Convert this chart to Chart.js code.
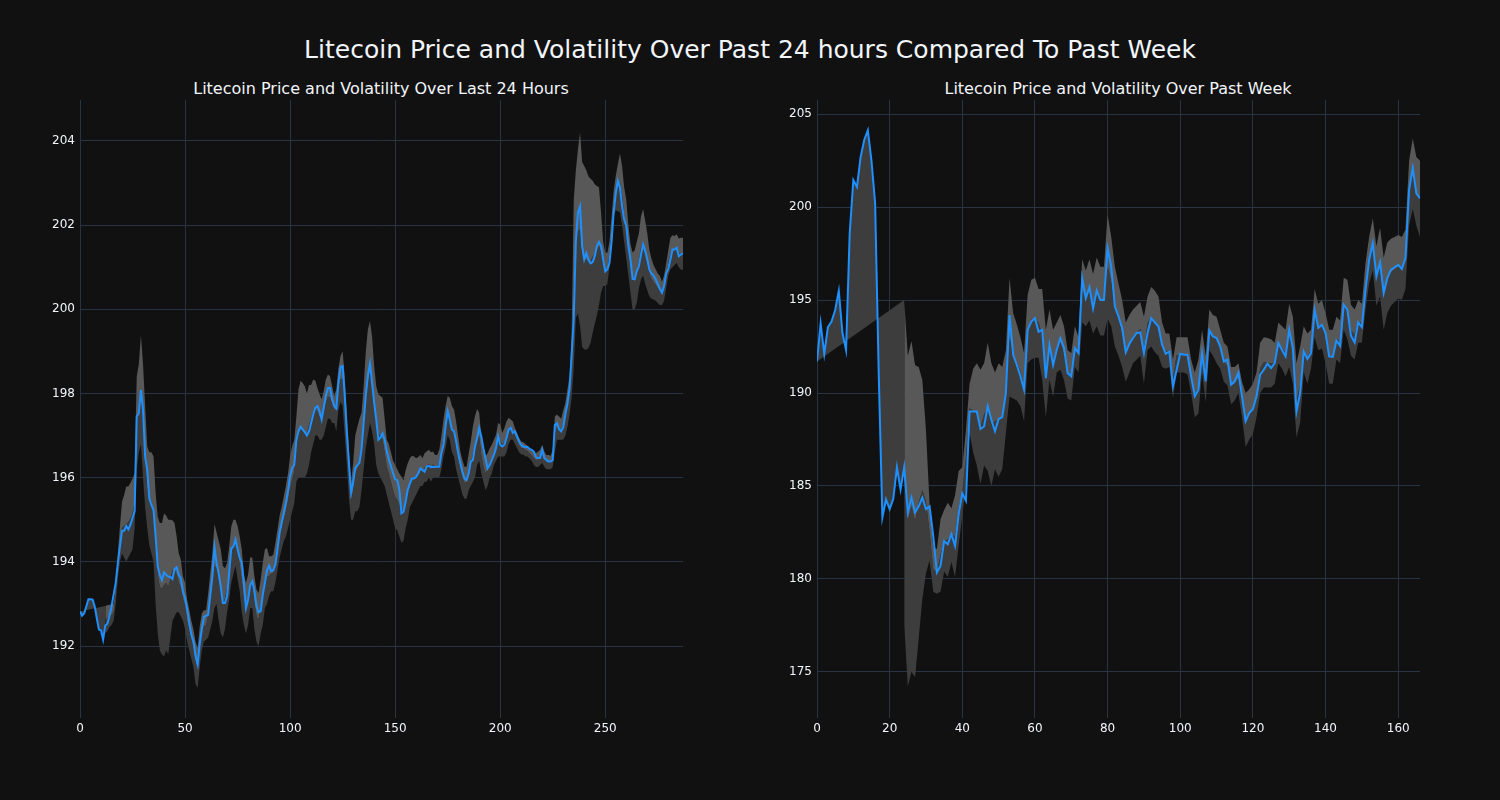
<!DOCTYPE html>
<html>
<head>
<meta charset="utf-8">
<script src="https://cdn.jsdelivr.net/npm/chart.js@4.4.1/dist/chart.umd.min.js"></script>
<style>
  html, body { margin: 0; padding: 0; background: #111111; }
  #wrap { position: relative; width: 1500px; height: 800px; background: #111111;
          font-family: "DejaVu Sans", sans-serif; color: #f2f5fa; }
  .title { position: absolute; white-space: nowrap; transform: translateX(-50%); line-height: 1; }
  canvas { position: absolute; top: 0; }
</style>
</head>
<body>
<div id="wrap">
  <div class="title" style="left:750px; top:37px; font-size:25px;">Litecoin Price and Volatility Over Past 24 hours Compared To Past Week</div>
  <div class="title" style="left:381px; top:81px; font-size:16px;">Litecoin Price and Volatility Over Last 24 Hours</div>
  <div class="title" style="left:1118px; top:81px; font-size:16px;">Litecoin Price and Volatility Over Past Week</div>
  <canvas id="dayChart" width="750" height="800" style="left:0px"></canvas>
  <canvas id="weekChart" width="750" height="800" style="left:750px"></canvas>
</div>
<script>
// last 24 hours, 5 minute steps (index 0..287)
const dayPrice = [
  192.82, 192.72, 192.78, 192.94, 193.11, 193.11, 193.10, 192.94, 192.66, 192.39,
  192.37, 192.15, 192.48, 192.53, 192.70, 192.94, 193.22, 193.50, 193.97, 194.36,
  194.74, 194.74, 194.85, 194.77, 194.88, 195.04, 195.20, 197.45, 197.53, 198.08,
  197.60, 196.50, 196.18, 195.50, 195.35, 195.23, 194.60, 193.89, 193.69, 193.57,
  193.75, 193.69, 193.65, 193.64, 193.59, 193.83, 193.87, 193.69, 193.61, 193.30,
  193.14, 192.88, 192.55, 192.27, 192.11, 191.76, 191.56, 192.05, 192.40, 192.69,
  192.72, 192.74, 193.20, 193.65, 194.35, 193.97, 193.73, 193.40, 193.02, 193.02,
  193.18, 193.73, 194.32, 194.36, 194.53, 194.29, 194.10, 193.98, 193.50, 192.90,
  193.10, 193.45, 193.54, 193.30, 192.95, 192.80, 192.83, 193.22, 193.50, 193.80,
  193.91, 193.78, 193.80, 193.94, 194.30, 194.69, 194.93, 195.16, 195.40, 195.68,
  196.04, 196.23, 196.31, 196.90, 197.10, 197.21, 197.14, 197.08, 197.00, 197.10,
  197.30, 197.50, 197.66, 197.70, 197.58, 197.38, 197.66, 197.94, 198.13, 198.13,
  197.87, 197.70, 197.64, 198.25, 198.63, 198.65, 197.94, 197.07, 196.35, 195.64,
  195.88, 196.23, 196.29, 196.35, 196.67, 197.30, 197.94, 198.41, 198.71, 198.25,
  197.78, 197.38, 196.90, 196.95, 197.05, 196.90, 196.63, 196.43, 196.27, 196.11,
  195.96, 195.94, 195.72, 195.15, 195.19, 195.43, 195.71, 195.86, 195.98, 195.98,
  196.02, 196.10, 196.22, 196.18, 196.14, 196.26, 196.28, 196.25, 196.26, 196.25,
  196.26, 196.26, 196.58, 196.78, 197.22, 197.58, 197.38, 197.14, 197.10, 196.86,
  196.58, 196.34, 196.14, 195.98, 195.94, 196.10, 196.38, 196.42, 196.74, 196.94,
  197.18, 196.98, 196.70, 196.46, 196.22, 196.30, 196.42, 196.54, 196.70, 196.98,
  196.78, 196.74, 196.78, 196.94, 197.14, 197.18, 197.06, 197.10, 196.98, 196.86,
  196.78, 196.74, 196.73, 196.73, 196.68, 196.66, 196.62, 196.49, 196.46, 196.47,
  196.66, 196.46, 196.42, 196.38, 196.38, 196.42, 197.25, 197.29, 197.15, 197.10,
  197.20, 197.50, 197.75, 198.10, 198.90, 199.80, 201.60, 202.30, 202.45, 201.50,
  201.18, 201.33, 201.18, 201.09, 201.12, 201.26, 201.50, 201.60, 201.50, 201.18,
  200.90, 200.95, 201.10, 201.60, 202.30, 202.75, 203.05, 202.89, 202.45, 202.13,
  201.98, 201.50, 201.18, 200.72, 200.71, 200.90, 201.02, 201.30, 201.54, 201.38,
  201.18, 200.94, 200.85, 200.80, 200.71, 200.60, 200.48, 200.39, 200.55, 200.85,
  200.96, 201.18, 201.42, 201.42, 201.46, 201.26, 201.30, 201.33
];

const dayUpper = [
  null, null, null, null, null, null, null, null, null, null, null, null,
  192.95, 192.97, 192.98, 192.98, 193.00, 193.40, 194.20, 194.84,
  195.43, 195.59, 195.79, 195.79, 195.87, 195.98, 196.10, 198.40, 198.70, 199.38,
  198.70, 197.70, 196.74, 196.60, 196.60, 196.50, 195.63, 195.07, 194.92, 194.92,
  195.15, 195.10, 195.00, 195.00, 194.99, 194.92, 194.60, 194.20, 194.05, 193.65,
  193.50, 193.10, 192.86, 192.60, 192.39, 192.10, 191.95, 192.47, 192.78, 192.85,
  192.85, 193.25, 193.73, 194.20, 194.90, 194.70, 194.50, 194.30, 193.90, 193.85,
  193.97, 194.36, 194.84, 195.00, 195.00, 194.85, 194.60, 194.30, 193.70, 193.50,
  193.70, 194.10, 194.10, 193.66, 193.34, 193.26, 193.58, 193.98, 194.30, 194.33,
  194.13, 194.13, 194.17, 194.45, 194.77, 195.10, 195.30, 195.56, 195.80, 196.10,
  196.50, 196.75, 196.90, 197.46, 198.10, 198.30, 198.25, 198.17, 198.00, 198.20,
  198.20, 198.33, 198.30, 198.13, 197.98, 197.86, 198.06, 198.33, 198.45, 198.41,
  198.17, 197.94, 198.10, 198.60, 198.89, 199.00, 198.41, 197.54, 196.67, 195.88,
  196.35, 197.00, 197.20, 197.40, 197.54, 198.17, 198.97, 199.52, 199.72, 199.36,
  198.65, 198.17, 197.98, 197.94, 197.90, 197.40, 196.90, 196.80, 196.60, 196.40,
  196.30, 196.20, 196.10, 196.02, 195.94, 196.18, 196.34, 196.46, 196.52, 196.50,
  196.46, 196.49, 196.54, 196.46, 196.58, 196.62, 196.66, 196.60, 196.62, 196.54,
  196.54, 196.66, 196.98, 197.38, 197.70, 197.94, 197.90, 197.70, 197.62, 197.34,
  196.98, 196.62, 196.42, 196.26, 196.26, 196.58, 196.86, 197.22, 197.46, 197.63,
  197.54, 196.98, 196.66, 196.50, 196.58, 196.70, 196.78, 196.90, 197.02, 197.30,
  197.26, 197.06, 197.18, 197.34, 197.42, 197.38, 197.34, 197.18, 197.06, 196.94,
  196.86, 196.84, 196.80, 196.76, 196.70, 196.66, 196.62, 196.58, 196.62, 196.66,
  196.78, 196.62, 196.54, 196.54, 196.52, 196.66, 197.45, 197.50, 197.45, 197.40,
  197.60, 197.77, 198.10, 198.40, 199.40, 202.60, 203.30, 203.80, 204.20, 203.50,
  203.40, 203.30, 203.15, 203.10, 203.05, 202.97, 202.93, 202.90, 202.30, 201.60,
  201.35, 201.34, 201.60, 202.20, 202.80, 203.17, 203.45, 203.70, 203.40, 202.90,
  202.60, 202.00, 201.55, 201.35, 201.40, 201.60, 201.80, 202.20, 202.38, 202.10,
  201.80, 201.40, 201.20, 201.05, 200.95, 200.85, 200.79, 200.65, 200.80, 201.10,
  201.40, 201.70, 201.76, 201.74, 201.78, 201.68, 201.70, 201.70
];

const dayLower = [
  null, null, null, null, null, null, null, null, null, null, null, null,
  192.30, 192.35, 192.45, 192.50, 192.60, 193.00, 193.60, 194.00,
  194.20, 194.10, 194.00, 194.10, 194.20, 194.30, 194.80, 196.20, 196.60, 196.80,
  196.00, 195.30, 194.80, 194.40, 194.20, 194.00, 193.00, 192.30, 191.90, 191.80,
  191.75, 191.90, 191.80, 192.20, 192.60, 192.70, 192.80, 192.80, 192.70, 192.60,
  192.40, 192.10, 191.90, 191.70, 191.50, 191.10, 191.00, 191.50, 191.90, 192.10,
  192.15, 192.20, 192.40, 192.60, 192.90, 193.00, 192.60, 192.30, 192.20, 192.40,
  192.80, 193.10, 193.50, 193.70, 193.90, 193.60, 193.30, 192.80, 192.50, 192.30,
  192.50, 192.90, 192.90, 192.40, 192.10, 192.00, 192.30, 192.50, 192.90, 193.00,
  193.20, 193.30, 193.30, 193.50, 193.80, 194.10, 194.30, 194.50, 194.60, 194.80,
  195.00, 195.20, 195.40, 195.90, 196.00, 196.00, 196.00, 196.00, 196.10, 196.30,
  196.60, 196.80, 197.00, 197.00, 196.90, 196.90, 197.00, 197.20, 197.40, 197.40,
  197.30, 197.30, 197.10, 197.60, 197.80, 197.70, 197.00, 196.30, 195.50, 195.00,
  195.00, 195.20, 195.20, 195.30, 195.70, 196.20, 196.70, 197.00, 197.30, 197.10,
  196.80, 196.30, 196.10, 196.00, 195.90, 195.80, 195.60, 195.40, 195.20, 195.00,
  194.80, 194.75, 194.60, 194.45, 194.50, 194.80, 195.00, 195.30, 195.40, 195.50,
  195.60, 195.70, 195.80, 195.80, 195.90, 195.90, 196.00, 195.90, 196.00, 196.00,
  196.00, 196.00, 196.20, 196.50, 196.70, 197.00, 196.90, 196.60, 196.50, 196.20,
  196.00, 195.80, 195.60, 195.50, 195.50, 195.70, 195.80, 195.90, 196.00, 196.30,
  196.40, 196.10, 195.90, 195.70, 195.80, 196.00, 196.10, 196.30, 196.40, 196.50,
  196.50, 196.50, 196.50, 196.60, 196.80, 196.90, 196.90, 196.80, 196.70, 196.60,
  196.55, 196.55, 196.50, 196.50, 196.45, 196.40, 196.30, 196.25, 196.25, 196.30,
  196.35, 196.25, 196.20, 196.20, 196.20, 196.25, 196.60, 196.90, 196.90, 196.90,
  196.90, 197.00, 197.20, 197.50, 197.90, 198.60, 199.80, 199.90, 199.60, 199.10,
  199.05, 199.04, 199.08, 199.20, 199.44, 199.65, 199.85, 200.10, 200.40, 200.55,
  200.55, 200.60, 201.00, 201.40, 202.20, 202.35, 202.33, 202.30, 202.00, 201.60,
  201.20, 200.80, 200.40, 200.00, 200.00, 200.15, 200.50, 200.70, 200.80, 200.60,
  200.45, 200.30, 200.25, 200.23, 200.20, 200.15, 200.10, 200.10, 200.20, 200.50,
  200.80, 200.95, 201.00, 201.05, 201.10, 201.00, 200.94, 200.94
];

// past week, hourly (index 0..166)
const weekPrice = [
  191.70, 193.75, 192.10, 193.55, 193.85, 194.47, 195.50, 193.24, 192.31, 198.58,
  201.46, 201.09, 202.70, 203.62, 204.14, 202.50, 200.23, 191.00, 183.30, 184.28,
  183.75, 184.30, 186.00, 184.80, 186.00, 183.57, 184.37, 183.57, 183.90, 184.37,
  183.75, 183.90, 182.30, 180.34, 180.70, 182.04, 181.86, 182.40, 181.77, 183.50,
  184.60, 184.20, 189.00, 189.00, 189.00, 188.06, 188.20, 189.30, 188.56, 187.94,
  188.60, 188.70, 190.00, 194.20, 192.06, 191.52, 190.90, 190.18, 193.40, 193.85,
  194.03, 193.30, 193.40, 190.80, 192.60, 191.50, 192.33, 192.96, 192.42, 191.07,
  190.90, 192.42, 192.15, 196.18, 195.10, 195.70, 194.55, 195.52, 195.00, 195.00,
  197.80, 196.80, 194.66, 194.12, 193.50, 192.19, 192.65, 192.96, 193.23, 193.26,
  192.15, 193.23, 194.03, 193.80, 193.58, 192.60, 192.11, 192.24, 190.36, 191.25,
  192.11, 192.06, 192.06, 190.90, 189.82, 190.18, 192.15, 190.63, 193.37, 193.05,
  192.96, 192.50, 191.70, 191.80, 190.45, 190.63, 191.10, 189.82, 188.48, 188.92,
  189.14, 189.82, 190.99, 191.25, 191.58, 191.34, 191.61, 192.69, 192.33, 191.97,
  193.40, 192.40, 189.00, 190.00, 192.24, 191.83, 192.15, 194.48, 193.50, 193.67,
  193.23, 191.97, 191.94, 192.83, 192.54, 194.75, 194.48, 193.08, 192.72, 193.80,
  193.55, 195.56, 197.17, 198.06, 196.27, 197.03, 195.38, 196.18, 196.63, 196.77,
  196.90, 196.67, 197.26, 200.93, 202.10, 200.75, 200.48
];

const weekUpper = [
  null, null, null, null, null, null, null, null, null, null, null, null,
  null, null, null, null, null, null, null, null, null, null, null, null,
  195.0, 192.0, 192.8, 191.5, 191.4, 190.7,
  188.0, 184.0, 181.7, 181.6, 183.2, 183.7, 184.1, 183.8, 184.5, 185.8,
  186.0, 188.0, 190.5, 191.3, 191.6, 191.25, 191.6, 192.7, 191.6, 191.1,
  191.6, 191.4, 192.3, 196.2, 194.3, 193.7, 193.0, 192.15, 195.3, 196.1,
  196.2, 195.6, 195.6, 193.4, 194.5, 193.4, 193.8, 194.2, 193.6, 192.3,
  192.15, 193.6, 193.0, 197.2, 196.6, 197.2, 196.4, 197.3, 196.8, 196.8,
  199.6, 198.4, 196.8, 195.9, 195.0, 193.8, 194.2, 194.5, 194.7, 194.9,
  194.1, 195.2, 195.7, 195.5, 195.2, 193.8, 193.2, 193.2, 191.8, 193.0,
  193.0, 193.0, 193.0, 191.8, 191.1, 191.8, 193.4, 192.0, 194.5, 194.2,
  194.1, 193.4, 192.7, 192.5, 191.4, 191.4, 191.6, 190.6, 190.0, 190.2,
  190.5, 191.1, 192.7, 193.0, 192.96, 192.9, 192.7, 193.8, 193.6, 193.4,
  194.8, 194.1, 191.6, 192.5, 193.6, 193.2, 193.4, 195.6, 194.8, 195.0,
  194.3, 193.4, 193.4, 194.1, 193.9, 196.2, 196.1, 194.75, 194.5, 195.0,
  194.8, 197.0, 198.4, 199.4, 197.9, 198.9, 197.3, 198.1, 198.3, 198.4,
  198.5, 198.4, 198.8, 202.5, 203.7, 202.7, 202.5
];

const weekLower = [
  null, null, null, null, null, null, null, null, null, null, null, null,
  null, null, null, null, null, null, null, null, null, null, null, null,
  177.6, 174.2, 175.0, 174.7, 176.8, 178.9,
  180.3, 181.0, 179.3, 179.2, 179.3, 180.4, 180.1, 180.9, 180.1, 181.8,
  183.4, 185.0, 187.85, 186.8, 186.1, 185.1, 186.1, 185.8, 185.0, 185.9,
  185.5, 185.9, 187.85, 189.8, 189.7, 189.6, 189.3, 188.5, 191.6, 191.8,
  191.9, 191.9, 190.7, 188.7, 190.7, 189.8, 191.1, 191.25, 190.7, 189.7,
  189.6, 191.4, 191.1, 193.8, 193.6, 193.9, 193.2, 193.6, 193.1, 193.1,
  194.0, 193.6, 192.5, 192.0, 191.4, 190.6, 191.1, 191.6, 191.8, 192.0,
  190.5, 192.3, 192.5, 192.2, 192.0, 191.4, 191.3, 191.4, 189.7, 191.1,
  191.1, 191.1, 191.0, 190.0, 188.7, 188.9, 191.1, 189.5, 192.3, 192.0,
  191.6, 191.3, 190.6, 190.4, 189.4, 189.6, 190.0, 188.7, 187.1, 187.5,
  187.8, 188.7, 190.0, 190.3, 190.3, 190.3, 190.5, 191.6, 191.3, 190.9,
  191.4, 190.5, 187.6, 188.4, 191.1, 190.5, 191.3, 193.0, 192.3, 192.4,
  191.6, 190.5, 190.5, 191.8, 191.6, 193.4, 192.9, 192.0, 191.8, 192.7,
  192.7, 194.5, 195.9, 196.6, 194.7, 195.2, 193.4, 194.3, 194.7, 194.9,
  195.1, 195.0, 195.6, 199.0, 199.9, 199.0, 198.4
];

const lineBlue = "#1e90ff";
const bandLight = "#585858";
const bandDark = "#3d3d3d";
const gridColor = "#283442";
const textColor = "#f2f5fa";

function toPoints(arr) {
  const out = [];
  arr.forEach((v, i) => {
    if (v !== null) out.push({ x: i, y: v });
  });
  return out;
}

function hiddenLine(data, fill, color) {
  return {
    data: data,
    borderWidth: 0,
    borderColor: "rgba(0,0,0,0)",
    backgroundColor: color,
    pointRadius: 0,
    fill: fill,
    tension: 0,
  };
}

function drawPanel(id, price, upper, lower, cfg) {
  const first = upper.findIndex((v) => v !== null);
  const mid = upper.map((v, i) => (v === null ? null : (v + lower[i]) / 2));
  // plotly closes its band polygon back to the first price, keep that wedge
  const wedge = [
    { x: 0, y: price[0] },
    { x: first, y: upper[first] },
  ];
  return new Chart(document.getElementById(id), {
    type: "line",
    data: {
      datasets: [
        {
          data: toPoints(price),
          borderColor: lineBlue,
          borderWidth: 2,
          pointRadius: 0,
          fill: false,
          tension: 0,
        },
        hiddenLine(toPoints(upper), { target: 2 }, bandLight),
        hiddenLine(toPoints(mid), false, "rgba(0,0,0,0)"),
        hiddenLine(toPoints(lower), { target: 2 }, bandDark),
        hiddenLine(wedge, { target: 0 }, bandDark),
      ],
    },
    options: {
      responsive: false,
      animation: false,
      events: [],
      layout: { padding: { left: 0, right: cfg.padRight, top: 100, bottom: 0 } },
      plugins: { legend: { display: false }, tooltip: { enabled: false } },
      scales: {
        x: {
          type: "linear",
          min: 0,
          max: cfg.xMax,
          grid: { color: gridColor, drawTicks: false },
          border: { display: false },
          ticks: {
            stepSize: cfg.xStep,
            includeBounds: false,
            color: textColor,
            font: { family: "DejaVu Sans", size: 12 },
            padding: 4,
            maxRotation: 0,
          },
          afterFit: (s) => { s.height = 82; },
        },
        y: {
          min: cfg.yMin,
          max: cfg.yMax,
          grid: { color: gridColor, drawTicks: false },
          border: { display: false },
          ticks: {
            stepSize: cfg.yStep,
            includeBounds: false,
            color: textColor,
            font: { family: "DejaVu Sans", size: 12 },
            padding: 5,
          },
          afterFit: (s) => { s.width = cfg.yWidth; },
        },
      },
    },
  });
}

drawPanel("dayChart", dayPrice, dayUpper, dayLower, {
  xMax: 287, xStep: 50, yMin: 190.29, yMax: 204.97, yStep: 2, yWidth: 80, padRight: 67,
});
drawPanel("weekChart", weekPrice, weekUpper, weekLower, {
  xMax: 166, xStep: 20, yMin: 172.51, yMax: 205.77, yStep: 5, yWidth: 67, padRight: 80,
});
</script>
</body>
</html>
